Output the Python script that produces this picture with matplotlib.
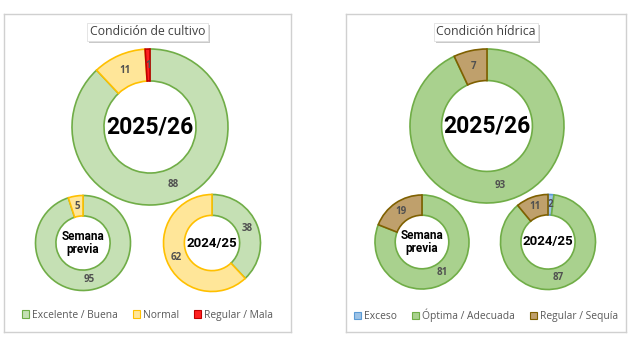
import matplotlib
matplotlib.use("Agg")
import matplotlib.pyplot as plt
from matplotlib.patches import Patch
import matplotlib.patheffects as pe

# data
cultivo_labels = ['Excelente / Buena', 'Normal', 'Regular / Mala']
cultivo_2526 = [88, 11, 1]
cultivo_prev = [95, 5, 0]
cultivo_2425 = [38, 62, 0]

hidrica_labels = ['Exceso', 'Óptima / Adecuada', 'Regular / Sequía']
hidrica_2526 = [0, 93, 7]
hidrica_prev = [0, 81, 19]
hidrica_2425 = [2, 87, 11]

cultivo_fill = ['#c5e0b4', '#ffe699', '#ff2020']
cultivo_edge = ['#70ad47', '#ffc000', '#c00000']
hidrica_fill = ['#9dc3e6', '#a9d18e', '#bfa06c']
hidrica_edge = ['#5b9bd5', '#70ad47', '#7f6000']

W, H = 640, 346
fig = plt.figure(figsize=(6.4, 3.46), dpi=100)
fig.patch.set_facecolor('white')

big_font = ['Roboto', 'DejaVu Sans']
txt_font = ['Open Sans', 'DejaVu Sans']


def px_rect(x0, y0, x1, y1):
    return [x0 / W, 1 - y1 / H, (x1 - x0) / W, (y1 - y0) / H]


def panel(x0, x1, title, labels, fills, edges):
    ax = fig.add_axes(px_rect(x0, 14, x1, 332))
    ax.set_xticks([])
    ax.set_yticks([])
    for s in ax.spines.values():
        s.set_color('#d0d0d0')
        s.set_linewidth(1)
    t = ax.text(0.5, 0.944, title, transform=ax.transAxes, ha='center', va='center',
                fontsize=8.8, color='#404040', family=txt_font,
                bbox=dict(boxstyle='square,pad=0.2', fc='white', ec='#e0e0e0', lw=0.6))
    t.get_bbox_patch().set_path_effects([pe.withSimplePatchShadow(offset=(1.5, -1.5),
                                                                  shadow_rgbFace='#888888', alpha=0.45)])
    handles = [Patch(facecolor=f, edgecolor=e, linewidth=0.8) for f, e in zip(fills, edges)]
    ax.legend(handles, labels, loc='center', bbox_to_anchor=(0.5, 0.053), ncol=3,
              frameon=False, handlelength=0.7, handleheight=0.7, handletextpad=0.25,
              columnspacing=1.5, prop={'family': txt_font, 'size': 7.4}, labelcolor='#595959')
    return ax


def donut(cx, cy, r, values, fills, edges, width, center, fs):
    pad = 1.04
    ax = fig.add_axes(px_rect(cx - r * pad, cy - r * pad, cx + r * pad, cy + r * pad))
    ax.set_facecolor('none')
    keep = [i for i, v in enumerate(values) if v > 0]
    vals = [values[i] for i in keep]
    wedges, _, autos = ax.pie(vals, colors=[fills[i] for i in keep], startangle=90,
                              counterclock=False, radius=1,
                              wedgeprops=dict(width=width, linewidth=1.2),
                              autopct=lambda p: f'{p:.0f}', pctdistance=1 - width / 2,
                              textprops=dict(fontsize=7, color='#505050',
                                             family=txt_font, weight='bold'))
    for w, i in zip(wedges, keep):
        w.set_edgecolor(edges[i])
    ax.set_xlim(-pad, pad)
    ax.set_ylim(-pad, pad)
    ax.set_aspect('equal')
    ax.axis('off')
    ax.text(0, 0, center, ha='center', va='center', fontsize=fs, weight='bold',
            family=big_font, color='black', linespacing=1.05)
    return ax


panel(4, 291, 'Condición de cultivo', cultivo_labels, cultivo_fill, cultivo_edge)
panel(346, 626, 'Condición hídrica', hidrica_labels, hidrica_fill, hidrica_edge)

donut(150, 127, 78, cultivo_2526, cultivo_fill, cultivo_edge, 0.41, '2025/26', 16.5)
donut(83, 243, 47.5, cultivo_prev, cultivo_fill, cultivo_edge, 0.43, 'Semana\nprevia', 8.5)
donut(212, 243, 48.5, cultivo_2425, cultivo_fill, cultivo_edge, 0.43, '2024/25', 9.5)

donut(487, 126, 77, hidrica_2526, hidrica_fill, hidrica_edge, 0.41, '2025/26', 16.5)
donut(422, 242, 47, hidrica_prev, hidrica_fill, hidrica_edge, 0.43, 'Semana\nprevia', 8.5)
donut(548, 242, 47.5, hidrica_2425, hidrica_fill, hidrica_edge, 0.43, '2024/25', 9.5)

fig.savefig('out.png', dpi=100, facecolor='white')
